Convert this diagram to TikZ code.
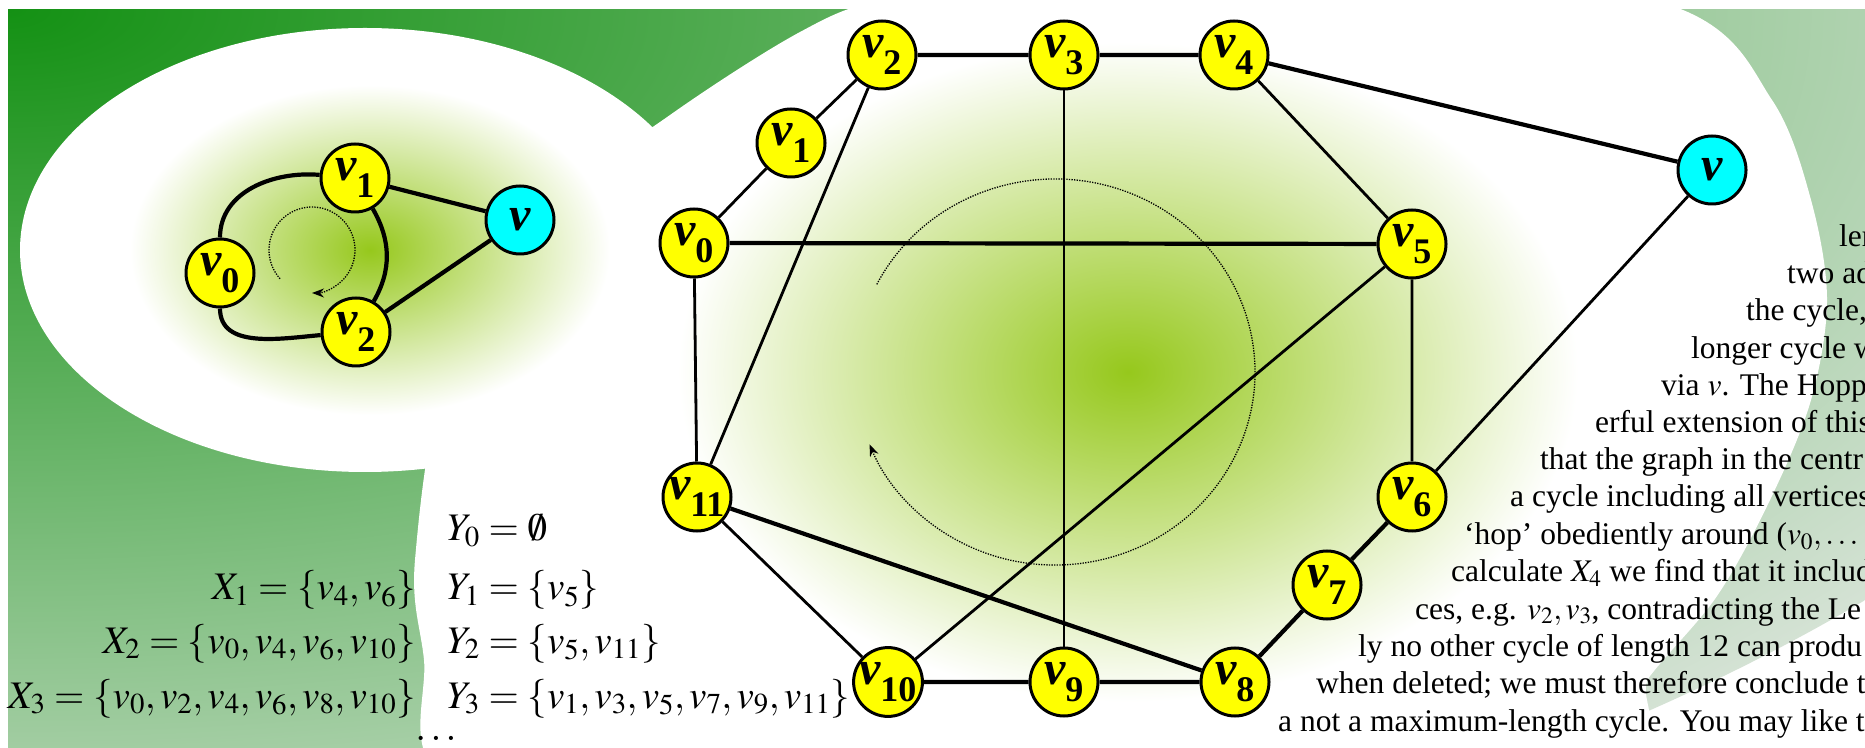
\documentclass[tikz,border=0pt]{standalone}
\usepackage{mathptmx}
\usepackage[no-math]{fontspec}
\setmainfont{Liberation Serif}
\usetikzlibrary{arrows.meta}
\definecolor{gdark}{RGB}{20,145,20}
\definecolor{gpale}{RGB}{212,226,212}
\definecolor{glowc}{RGB}{150,200,28}
\definecolor{vyellow}{RGB}{255,255,0}
\definecolor{vcyan}{RGB}{0,255,255}
\pgfdeclareradialshading{bggreen}{\pgfpoint{0bp}{0bp}}{color(0bp)=(gdark); color(25bp)=(gpale); color(50bp)=(gpale)}
\pgfdeclareradialshading{glow}{\pgfpoint{0bp}{0bp}}{color(0bp)=(glowc); color(25bp)=(white); color(50bp)=(white)}
\newcommand{\vlab}[1]{\textit{v}\kern-1pt\raisebox{-17pt}{\fontsize{36}{36}\selectfont #1}}

\begin{document}
\begin{tikzpicture}[x=1pt,y=1pt,
      yv/.style={circle,draw,line width=3pt,fill=vyellow,minimum size=68pt,inner sep=0pt,
        font=\fontsize{48}{48}\selectfont\bfseries},
      cv/.style={yv,fill=vcyan},
      ln/.style={line width=2.8pt},
      lnb/.style={line width=4.2pt},
      dotarr/.style={line width=1.3pt,dash pattern=on 1.3pt off 1.3pt,-{Stealth[length=12pt,width=9pt]}},
      mrow/.style={inner sep=0pt,font=\fontsize{39}{45}\selectfont},
      txt/.style={anchor=base west,inner sep=0pt,font=\fontsize{31.5}{37}\selectfont}]
  \useasboundingbox (0,0) rectangle (1865,747);
  \clip (0,0) rectangle (1865,747);
  % background
  \fill[white] (0,0) rectangle (1865,747);
  \begin{scope}
    \clip (8,0) rectangle (1865,737);
    \shade[shading=bggreen] (8,737) ellipse (2300 and 1000);
  \end{scope}
  \fill[white] plot[smooth cycle,tension=0.55] coordinates {(435,-20) (424,87) (415,187)
    (450,384) (560,545) (670,632) (800,715) (890,750) (1100,790) (1400,800) (1683,737)
    (1772,647) (1811,547) (1827,447) (1811,347) (1770,247) (1717,151) (1650,71) (1590,-13)
    (1000,-60) (600,-60)};
  \fill[white] (365,497) ellipse (345 and 222);
  \shade[shading=glow] (370,497) ellipse (240 and 165);
  \shade[shading=glow] (1128,375) ellipse (450 and 330);

  % small graph
  \coordinate (c1) at (312,497);
  \draw[dotarr] (c1) ++(222:43) arc[start angle=222,end angle=-90,radius=43];
  \node[yv] (s0) at (220,474) {\vlab{0}};
  \node[yv] (s1) at (355,569) {\vlab{1}};
  \node[yv] (s2) at (356,415) {\vlab{2}};
  \node[cv] (sv) at (520,527) {\textit{v}};
  \draw[lnb] (s0) to[out=90,in=175] (s1);
  \draw[lnb] (s0) to[out=-90,in=185] (s2);
  \draw[lnb] (s1) to[out=-60,in=60] (s2);
  \draw[lnb] (s1)--(sv)--(s2);

  % big graph
  \coordinate (c2) at (1055,375);
  \draw[dotarr] (c2) ++(153:200 and 193) arc[start angle=153,end angle=-158,x radius=200,y radius=193];
  \node[yv] (v0) at (694,504) {\vlab{0}}; \node[yv] (v1) at (791,604) {\vlab{1}};
  \node[yv] (v2) at (882,692) {\vlab{2}}; \node[yv] (v3) at (1064,692) {\vlab{3}};
  \node[yv] (v4) at (1234,692) {\vlab{4}}; \node[yv] (v5) at (1412,503) {\vlab{5}};
  \node[yv] (v6) at (1412,250) {\vlab{6}}; \node[yv] (v7) at (1327,162) {\vlab{7}};
  \node[yv] (v8) at (1235,65) {\vlab{8}}; \node[yv] (v9) at (1064,65) {\vlab{9}};
  \node[yv] (v10) at (888,65) {\vlab{10}}; \node[yv] (v11) at (697,250) {\vlab{11}};
  \node[cv] (vv) at (1712,577) {\textit{v}};
  \draw[ln] (v0)--(v1)--(v2); \draw[ln] (v4)--(v5)--(v6);
  \draw[ln] (v0)--(v11)--(v10); \draw[ln] (v2)--(v11);
  \draw[ln] (v3)--(v9); \draw[ln] (v5)--(v10); \draw[ln] (vv)--(v6);
  \draw[lnb] (v2)--(v3)--(v4)--(vv); \draw[lnb] (v0)--(v5);
  \draw[lnb] (v6)--(v7)--(v8)--(v9)--(v10); \draw[lnb] (v11)--(v8);

  % hop sets
  \node[mrow,anchor=base west] (y0) at (447,206) {$Y_0=\emptyset$};
  \node[mrow,anchor=base east] (x1) at (416,147) {$X_1=\{v_4,v_6\}$};
  \node[mrow,anchor=base west] (y1) at (447,147) {$Y_1=\{v_5\}$};
  \node[mrow,anchor=base east] (x2) at (416,94) {$X_2=\{v_0,v_4,v_6,v_{10}\}$};
  \node[mrow,anchor=base west] (y2) at (447,94) {$Y_2=\{v_5,v_{11}\}$};
  \node[mrow,anchor=base east] (x3) at (416,39) {$X_3=\{v_0,v_2,v_4,v_6,v_8,v_{10}\}$};
  \node[mrow,anchor=base west] (y3) at (447,39) {$Y_3=\{v_1,v_3,v_5,v_7,v_9,v_{11}\}$};
  \node[mrow,anchor=base] (dd) at (436,7) {$\dots$};

  % running text
  \node[txt] (t1) at (1839,500) {len};
  \node[txt] (t2) at (1787,463) {two ad};
  \node[txt] (t3) at (1746,426) {the cycle,};
  \node[txt] (t4) at (1691,388) {longer cycle w};
  \node[txt] (t5) at (1661,351) {via $v$. The Hopp};
  \node[txt] (t6) at (1595,314) {erful extension of this};
  \node[txt] (t7) at (1540,277) {that the graph in the centr};
  \node[txt] (t8) at (1510,240) {a cycle including all vertices};
  \node[txt] (t9) at (1464,202) {‘hop’ obediently around ($v_0,\ldots$};
  \node[txt] (t10) at (1451,165) {calculate $X_4$ we find that it includ};
  \node[txt] (t11) at (1415,128) {ces, e.g. $v_2,v_3$, contradicting the Le};
  \node[txt] (t12) at (1358,91) {ly no other cycle of length 12 can produ};
  \node[txt] (t13) at (1316,54) {when deleted; we must therefore conclude t};
  \node[txt] (t14) at (1278,16) {a not a maximum-length cycle. You may like t};
\end{tikzpicture}
\end{document}
